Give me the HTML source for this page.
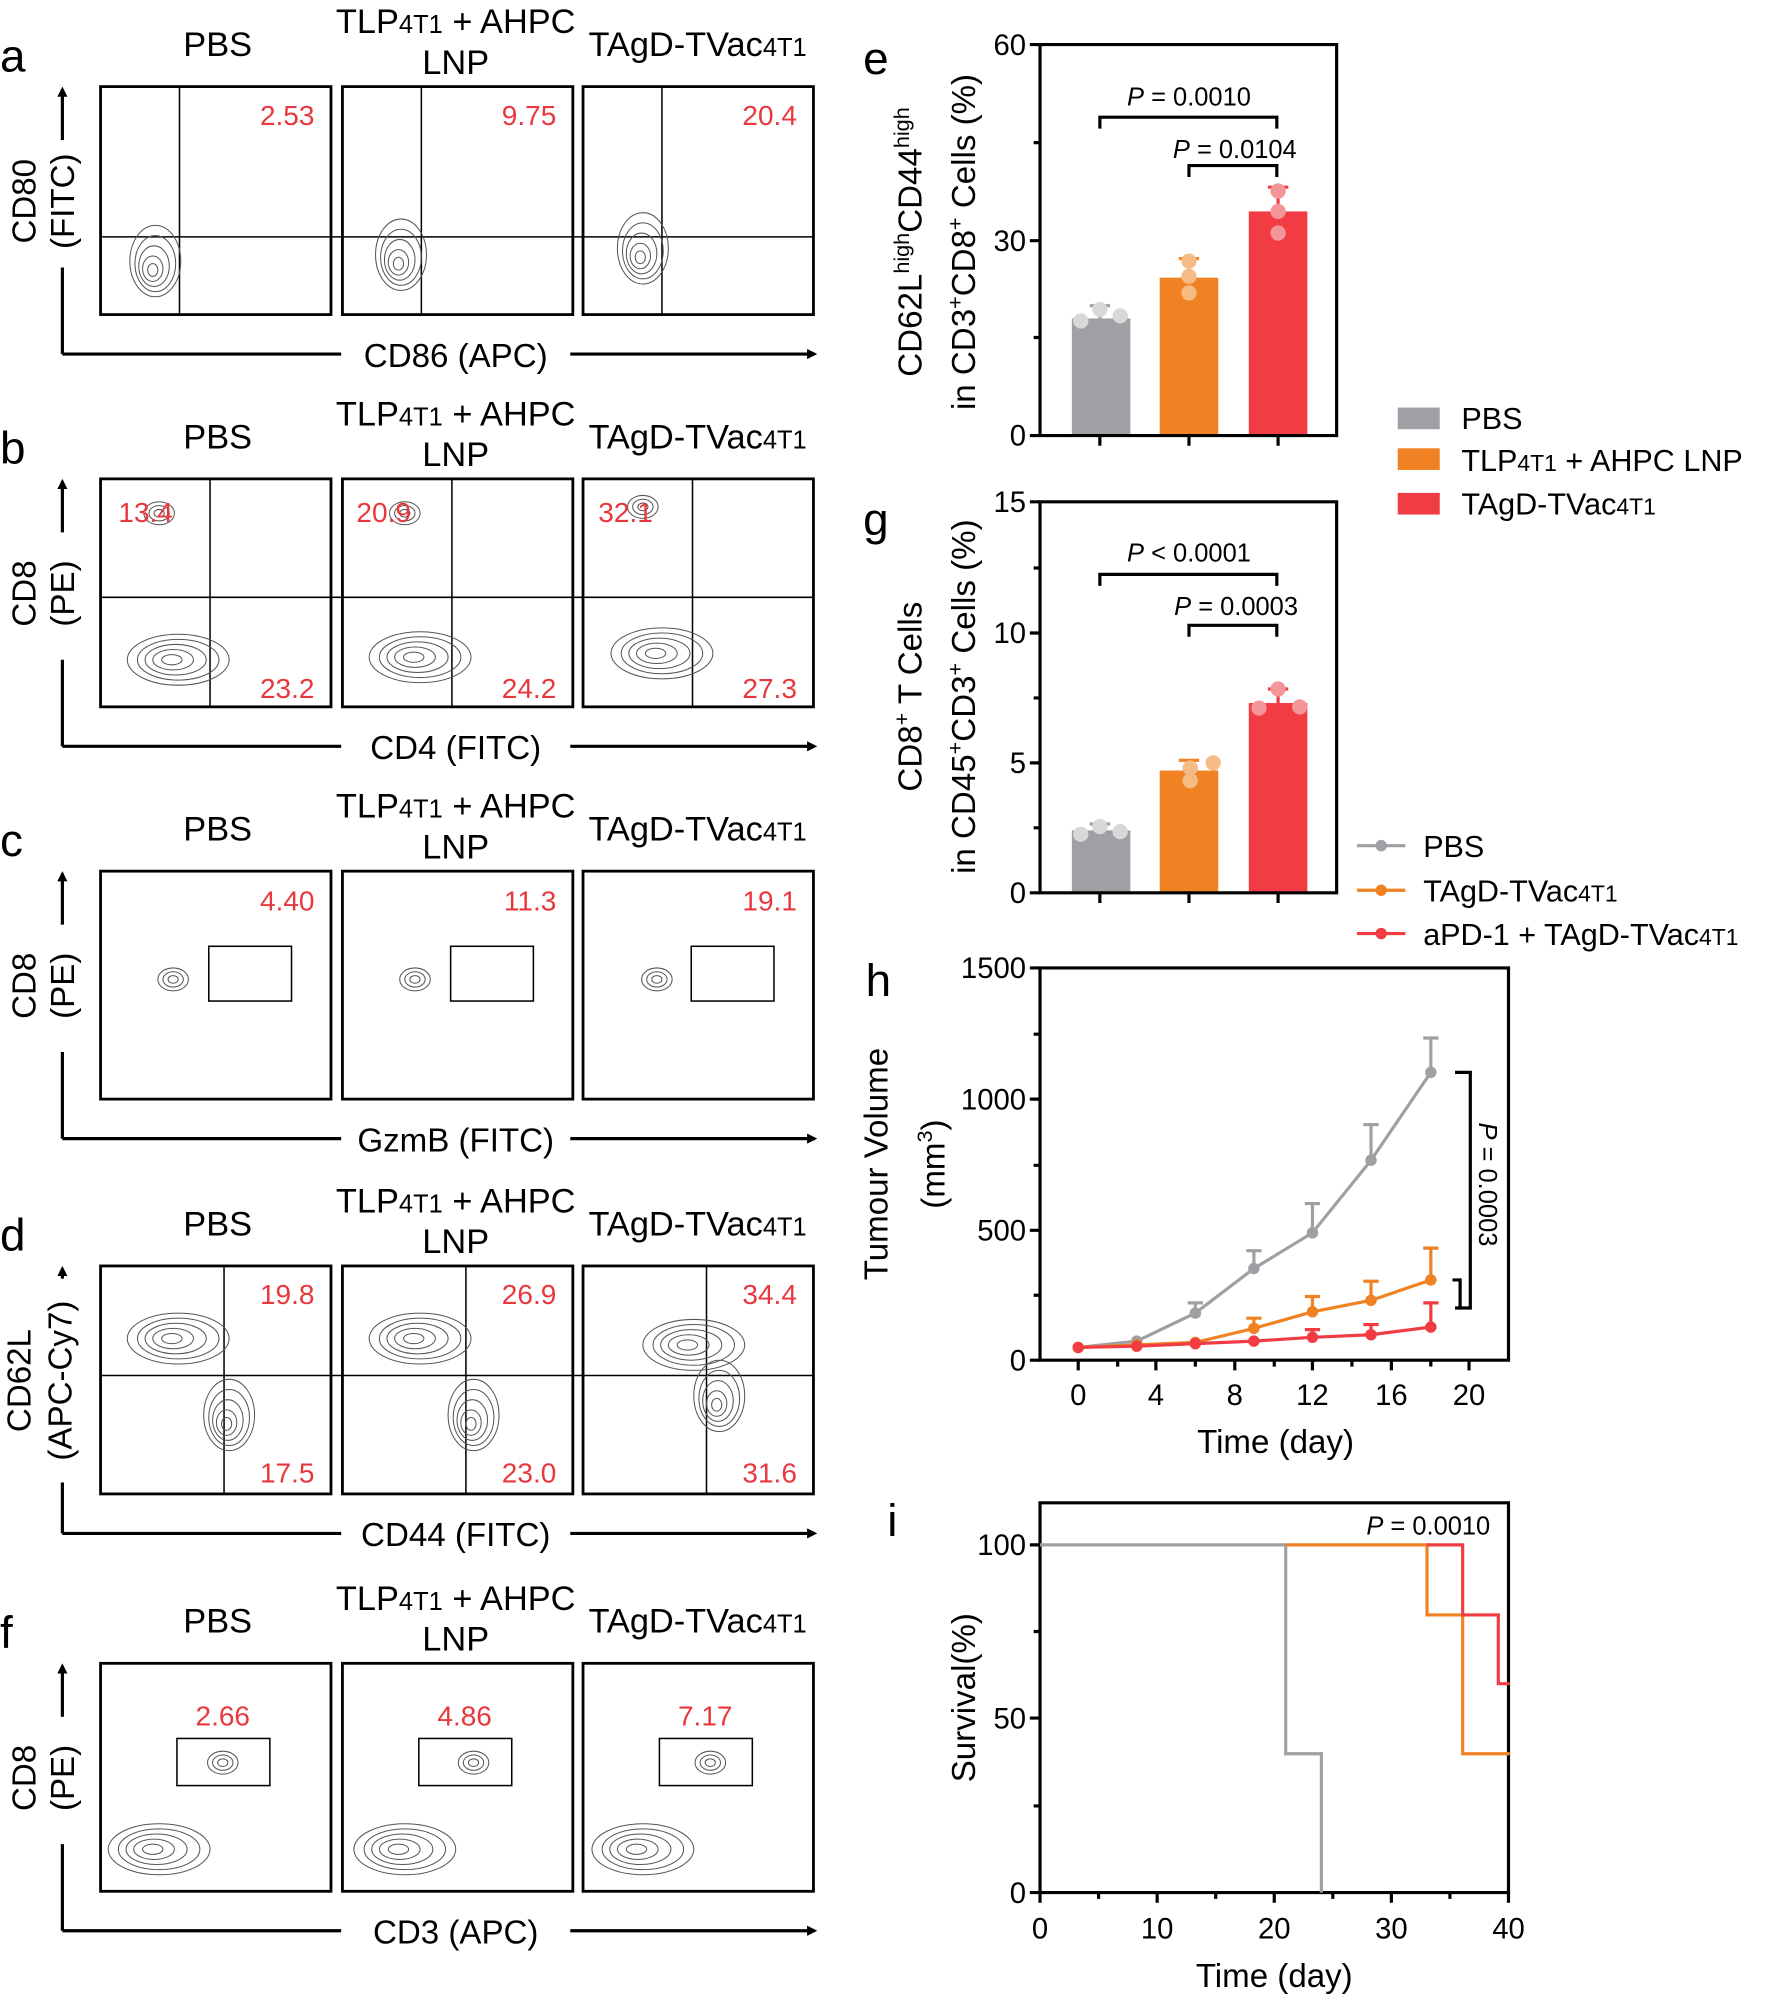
<!DOCTYPE html>
<html><head><meta charset="utf-8"><style>html,body{margin:0;padding:0;background:#fff}svg{display:block}</style></head><body>
<svg width="1772" height="1997" viewBox="0 0 1392 1568" preserveAspectRatio="none" xmlns="http://www.w3.org/2000/svg" font-family="Liberation Sans, Arial, sans-serif">
<defs>
<marker id="ar" markerWidth="8" markerHeight="8" refX="6" refY="4" orient="auto" markerUnits="userSpaceOnUse"><path d="M0,0 L8,4 L0,8 z" fill="#000"/></marker>
<g id="hdr" font-size="27" text-anchor="middle">
<text x="171" y="44">PBS</text>
<text x="358" y="26">TLP<tspan font-size="20">4T1</tspan> + AHPC</text>
<text x="358" y="58">LNP</text>
<text x="548" y="44">TAgD-TVac<tspan font-size="20">4T1</tspan></text>
</g>
<g id="boxes" fill="none" stroke="#000" stroke-width="2.2">
<rect x="79" y="68" width="181" height="179"/><rect x="269" y="68" width="181" height="179"/><rect x="458" y="68" width="181" height="179"/>
</g>
<g id="axis" stroke="#000" stroke-width="2.5" fill="none">
<line x1="49" y1="278" x2="268" y2="278"/><line x1="448" y1="278" x2="640" y2="278" marker-end="url(#ar)"/>
<line x1="49" y1="278" x2="49" y2="210"/><line x1="49" y1="110" x2="49" y2="70" marker-end="url(#ar)"/>
</g>
<g id="cont" fill="none" stroke="#555" stroke-width="0.8">
<ellipse cx="0" cy="0" rx="20" ry="28"/><ellipse cx="0" cy="2" rx="16" ry="22"/><ellipse cx="-1" cy="4" rx="12" ry="16"/><ellipse cx="-2" cy="6" rx="8" ry="10"/><ellipse cx="-2" cy="7" rx="4" ry="5"/>
</g>
<g id="blob" fill="none" stroke="#555" stroke-width="0.8">
<ellipse cx="0" cy="0" rx="40" ry="20"/><ellipse cx="0" cy="0" rx="32" ry="16"/><ellipse cx="-2" cy="0" rx="24" ry="12"/><ellipse cx="-4" cy="0" rx="16" ry="8"/><ellipse cx="-5" cy="0" rx="8" ry="4"/>
</g>
<g id="small" fill="none" stroke="#555" stroke-width="0.8">
<ellipse cx="0" cy="0" rx="12" ry="9"/><ellipse cx="0" cy="0" rx="8" ry="6"/><ellipse cx="0" cy="0" rx="4" ry="3"/>
</g>
</defs>

<g font-size="36">
<text x="0" y="56">a</text><text x="0" y="364">b</text><text x="0" y="672">c</text><text x="0" y="982">d</text><text x="0" y="1294">f</text>
<text x="678" y="58">e</text><text x="678" y="420">g</text><text x="680" y="782">h</text><text x="697" y="1206">i</text>
</g>

<!-- a -->
<g><use href="#hdr"/><use href="#boxes"/><use href="#axis"/>
<g stroke="#000" stroke-width="1.2"><line x1="141" y1="68" x2="141" y2="247"/><line x1="331" y1="68" x2="331" y2="247"/><line x1="520" y1="68" x2="520" y2="247"/><line x1="79" y1="186" x2="639" y2="186"/></g>
<use href="#cont" x="122" y="205"/><use href="#cont" x="315" y="200"/><use href="#cont" x="505" y="195"/>
<g fill="#e8383d" font-size="22" text-anchor="end"><text x="247" y="98">2.53</text><text x="437" y="98">9.75</text><text x="626" y="98">20.4</text></g>
<g font-size="26" text-anchor="middle"><text x="358" y="288">CD86 (APC)</text>
<text transform="translate(28,158) rotate(-90)">CD80</text><text transform="translate(58,158) rotate(-90)">(FITC)</text></g>
</g>

<!-- b -->
<g transform="translate(0,308)"><use href="#hdr"/><use href="#boxes"/><use href="#axis"/>
<g stroke="#000" stroke-width="1.2"><line x1="165" y1="68" x2="165" y2="247"/><line x1="355" y1="68" x2="355" y2="247"/><line x1="544" y1="68" x2="544" y2="247"/><line x1="79" y1="161" x2="639" y2="161"/></g>
<use href="#small" x="125" y="95"/><use href="#small" x="318" y="95"/><use href="#small" x="505" y="90"/>
<use href="#blob" x="140" y="210"/><use href="#blob" x="330" y="208"/><use href="#blob" x="520" y="205"/>
<g fill="#e8383d" font-size="22"><text x="93" y="102">13.4</text><text x="280" y="102">20.9</text><text x="470" y="102">32.1</text>
<g text-anchor="end"><text x="247" y="240">23.2</text><text x="437" y="240">24.2</text><text x="626" y="240">27.3</text></g></g>
<g font-size="26" text-anchor="middle"><text x="358" y="288">CD4 (FITC)</text>
<text transform="translate(28,158) rotate(-90)">CD8</text><text transform="translate(58,158) rotate(-90)">(PE)</text></g>
</g>

<!-- c -->
<g transform="translate(0,616)"><use href="#hdr"/><use href="#boxes"/><use href="#axis"/>
<g fill="none" stroke="#000" stroke-width="1.2"><rect x="164" y="127" width="65" height="43"/><rect x="354" y="127" width="65" height="43"/><rect x="543" y="127" width="65" height="43"/></g>
<use href="#small" x="136" y="153"/><use href="#small" x="326" y="153"/><use href="#small" x="516" y="153"/>
<g fill="#e8383d" font-size="22" text-anchor="end"><text x="247" y="99">4.40</text><text x="437" y="99">11.3</text><text x="626" y="99">19.1</text></g>
<g font-size="26" text-anchor="middle"><text x="358" y="288">GzmB (FITC)</text>
<text transform="translate(28,158) rotate(-90)">CD8</text><text transform="translate(58,158) rotate(-90)">(PE)</text></g>
</g>

<!-- d -->
<g transform="translate(0,926)"><use href="#hdr"/><use href="#boxes"/><use href="#axis"/>
<rect x="38" y="78" width="24" height="160" fill="#fff"/>
<g stroke="#000" stroke-width="1.2"><line x1="176" y1="68" x2="176" y2="247"/><line x1="366" y1="68" x2="366" y2="247"/><line x1="555" y1="68" x2="555" y2="247"/><line x1="79" y1="154" x2="639" y2="154"/></g>
<use href="#blob" x="140" y="125"/><use href="#blob" x="330" y="125"/><use href="#blob" x="545" y="130"/>
<use href="#cont" x="180" y="185"/><use href="#cont" x="372" y="185"/><use href="#cont" x="565" y="170"/>
<g fill="#e8383d" font-size="22" text-anchor="end"><text x="247" y="98">19.8</text><text x="437" y="98">26.9</text><text x="626" y="98">34.4</text>
<text x="247" y="238">17.5</text><text x="437" y="238">23.0</text><text x="626" y="238">31.6</text></g>
<g font-size="26" text-anchor="middle"><text x="358" y="288">CD44 (FITC)</text>
<text transform="translate(24,158) rotate(-90)">CD62L</text><text transform="translate(56,158) rotate(-90)">(APC-Cy7)</text></g>
</g>

<!-- f -->
<g transform="translate(0,1238)"><use href="#hdr"/><use href="#boxes"/><use href="#axis"/>
<g fill="none" stroke="#000" stroke-width="1.2"><rect x="139" y="127" width="73" height="37"/><rect x="329" y="127" width="73" height="37"/><rect x="518" y="127" width="73" height="37"/></g>
<use href="#small" x="175" y="146"/><use href="#small" x="372" y="146"/><use href="#small" x="558" y="146"/>
<use href="#blob" x="125" y="214"/><use href="#blob" x="318" y="214"/><use href="#blob" x="505" y="214"/>
<g fill="#e8383d" font-size="22" text-anchor="middle"><text x="175" y="117">2.66</text><text x="365" y="117">4.86</text><text x="554" y="117">7.17</text></g>
<g font-size="26" text-anchor="middle"><text x="358" y="288">CD3 (APC)</text>
<text transform="translate(28,158) rotate(-90)">CD8</text><text transform="translate(58,158) rotate(-90)">(PE)</text></g>
</g>

<!-- e -->
<g>
<rect x="842" y="250" width="46" height="92" fill="#a0a0a4"/><rect x="911" y="218" width="46" height="124" fill="#f08223"/><rect x="981" y="166" width="46" height="176" fill="#f23c44"/>
<g stroke-width="2.5"><path d="M864,250V240M856,240H872" stroke="#a0a0a4"/><path d="M934,218V203M926,203H942" stroke="#f08223"/><path d="M1004,166V147M996,147H1012" stroke="#f23c44"/></g>
<g fill="#d8d8d8"><circle cx="849" cy="252" r="6"/><circle cx="864" cy="243" r="6"/><circle cx="880" cy="248" r="6"/></g>
<g fill="#f6bb85"><circle cx="934" cy="205" r="6"/><circle cx="934" cy="217" r="6"/><circle cx="934" cy="230" r="6"/></g>
<g fill="#f4959a"><circle cx="1004" cy="150" r="6"/><circle cx="1004" cy="166" r="6"/><circle cx="1004" cy="183" r="6"/></g>
<path d="M817,35V342H1050V35Z" fill="none" stroke="#000" stroke-width="2.5"/>
<g stroke="#000" stroke-width="2.5"><path d="M817,342H809M817,189H809M817,35H809M817,265H812M817,112H812M864,342V350M934,342V350M1004,342V350"/></g>
<g font-size="23" text-anchor="end"><text x="806" y="350">0</text><text x="806" y="197">30</text><text x="806" y="43">60</text></g>
<path d="M864,101V92H1003V101M934,139V130H1003V139" fill="none" stroke="#000" stroke-width="2.5"/>
<g font-size="20" text-anchor="middle"><text x="934" y="83"><tspan font-style="italic">P</tspan> = 0.0010</text><text x="970" y="124"><tspan font-style="italic">P</tspan> = 0.0104</text></g>
<g font-size="26" text-anchor="middle"><text transform="translate(724,190) rotate(-90)">CD62L<tspan font-size="17" dy="-10">high</tspan><tspan dy="10">CD44</tspan><tspan font-size="17" dy="-10">high</tspan></text>
<text transform="translate(766,190) rotate(-90)">in CD3<tspan font-size="17" dy="-10">+</tspan><tspan dy="10">CD8</tspan><tspan font-size="17" dy="-10">+</tspan><tspan dy="10"> Cells (%)</tspan></text></g>
</g>

<g font-size="24"><rect x="1098" y="320" width="33" height="17" fill="#a0a0a4"/><rect x="1098" y="352" width="33" height="17" fill="#f08223"/><rect x="1098" y="387" width="33" height="17" fill="#f23c44"/>
<text x="1148" y="337">PBS</text><text x="1148" y="370">TLP<tspan font-size="18">4T1</tspan> + AHPC LNP</text><text x="1148" y="404">TAgD-TVac<tspan font-size="18">4T1</tspan></text></g>

<!-- g -->
<g>
<rect x="842" y="652" width="46" height="49" fill="#a0a0a4"/><rect x="911" y="605" width="46" height="96" fill="#f08223"/><rect x="981" y="552" width="46" height="149" fill="#f23c44"/>
<g stroke-width="2.5"><path d="M864,652V647M856,647H872" stroke="#a0a0a4"/><path d="M934,605V597M926,597H942" stroke="#f08223"/><path d="M1004,552V541M996,541H1012" stroke="#f23c44"/></g>
<g fill="#d8d8d8"><circle cx="849" cy="655" r="6"/><circle cx="864" cy="649" r="6"/><circle cx="880" cy="653" r="6"/></g>
<g fill="#f6bb85"><circle cx="935" cy="603" r="6"/><circle cx="935" cy="613" r="6"/><circle cx="953" cy="599" r="6"/></g>
<g fill="#f4959a"><circle cx="989" cy="556" r="6"/><circle cx="1004" cy="541" r="6"/><circle cx="1021" cy="555" r="6"/></g>
<path d="M817,394V701H1050V394Z" fill="none" stroke="#000" stroke-width="2.5"/>
<g stroke="#000" stroke-width="2.5"><path d="M817,701H809M817,599H809M817,497H809M817,394H809M817,650H812M817,548H812M817,446H812M864,701V709M934,701V709M1004,701V709"/></g>
<g font-size="23" text-anchor="end"><text x="806" y="709">0</text><text x="806" y="607">5</text><text x="806" y="505">10</text><text x="806" y="402">15</text></g>
<path d="M864,460V451H1003V460M934,500V491H1003V500" fill="none" stroke="#000" stroke-width="2.5"/>
<g font-size="20" text-anchor="middle"><text x="934" y="441"><tspan font-style="italic">P</tspan> &lt; 0.0001</text><text x="971" y="483"><tspan font-style="italic">P</tspan> = 0.0003</text></g>
<g font-size="26" text-anchor="middle"><text transform="translate(724,547) rotate(-90)">CD8<tspan font-size="17" dy="-10">+</tspan><tspan dy="10"> T Cells</tspan></text>
<text transform="translate(766,547) rotate(-90)">in CD45<tspan font-size="17" dy="-10">+</tspan><tspan dy="10">CD3</tspan><tspan font-size="17" dy="-10">+</tspan><tspan dy="10"> Cells (%)</tspan></text></g>
</g>

<g font-size="24">
<line x1="1066" y1="664" x2="1104" y2="664" stroke="#a0a0a4" stroke-width="2.5"/><circle cx="1085" cy="664" r="4.5" fill="#a0a0a4"/>
<line x1="1066" y1="699" x2="1104" y2="699" stroke="#f08223" stroke-width="2.5"/><circle cx="1085" cy="699" r="4.5" fill="#f08223"/>
<line x1="1066" y1="733" x2="1104" y2="733" stroke="#f23c44" stroke-width="2.5"/><circle cx="1085" cy="733" r="4.5" fill="#f23c44"/>
<text x="1118" y="673">PBS</text><text x="1118" y="708">TAgD-TVac<tspan font-size="18">4T1</tspan></text><text x="1118" y="742">aPD-1 + TAgD-TVac<tspan font-size="18">4T1</tspan></text>
</g>

<!-- h -->
<g>
<path d="M817,760V1068H1185V760Z" fill="none" stroke="#000" stroke-width="2.5"/>
<g stroke="#000" stroke-width="2.5"><path d="M817,1068H809M817,966H809M817,863H809M817,760H809M817,1017H812M817,915H812M817,812H812M847,1068V1076M908,1068V1076M970,1068V1076M1031,1068V1076M1093,1068V1076M1154,1068V1076M878,1068V1073M939,1068V1073M1001,1068V1073M1062,1068V1073M1124,1068V1073"/></g>
<g font-size="23" text-anchor="end"><text x="806" y="1076">0</text><text x="806" y="974">500</text><text x="806" y="871">1000</text><text x="806" y="768">1500</text></g>
<g font-size="23" text-anchor="middle"><text x="847" y="1103">0</text><text x="908" y="1103">4</text><text x="970" y="1103">8</text><text x="1031" y="1103">12</text><text x="1093" y="1103">16</text><text x="1154" y="1103">20</text></g>
<text x="1002" y="1141" font-size="26" text-anchor="middle">Time (day)</text>
<g font-size="26" text-anchor="middle"><text transform="translate(697,914) rotate(-90)">Tumour Volume</text><text transform="translate(742,914) rotate(-90)">(mm<tspan font-size="17" dy="-10">3</tspan><tspan dy="10">)</tspan></text></g>
<g stroke="#a0a0a4" stroke-width="2.5" fill="none"><path d="M939,1031V1023M985,996V982M1031,968V945M1077,911V883M1124,842V815"/><path d="M933,1023H945M979,982H991M1025,945H1037M1071,883H1083M1118,815H1130"/>
<polyline points="847,1058 893,1053 939,1031 985,996 1031,968 1077,911 1124,842"/></g>
<g fill="#a0a0a4"><circle cx="847" cy="1058" r="4.5"/><circle cx="893" cy="1053" r="4.5"/><circle cx="939" cy="1031" r="4.5"/><circle cx="985" cy="996" r="4.5"/><circle cx="1031" cy="968" r="4.5"/><circle cx="1077" cy="911" r="4.5"/><circle cx="1124" cy="842" r="4.5"/></g>
<g stroke="#f08223" stroke-width="2.5" fill="none"><path d="M985,1043V1035M1031,1030V1018M1077,1021V1006M1124,1005V980M979,1035H991M1025,1018H1037M1071,1006H1083M1118,980H1130"/>
<polyline points="847,1058 893,1056 939,1054 985,1043 1031,1030 1077,1021 1124,1005"/></g>
<g fill="#f08223"><circle cx="847" cy="1058" r="4.5"/><circle cx="893" cy="1056" r="4.5"/><circle cx="939" cy="1054" r="4.5"/><circle cx="985" cy="1043" r="4.5"/><circle cx="1031" cy="1030" r="4.5"/><circle cx="1077" cy="1021" r="4.5"/><circle cx="1124" cy="1005" r="4.5"/></g>
<g stroke="#f23c44" stroke-width="2.5" fill="none"><path d="M1124,1042V1023M1118,1023H1130M1077,1048V1040M1071,1040H1083M1031,1050V1044M1025,1044H1037"/>
<polyline points="847,1058 893,1057 939,1055 985,1053 1031,1050 1077,1048 1124,1042"/></g>
<g fill="#f23c44"><circle cx="847" cy="1058" r="4.5"/><circle cx="893" cy="1057" r="4.5"/><circle cx="939" cy="1055" r="4.5"/><circle cx="985" cy="1053" r="4.5"/><circle cx="1031" cy="1050" r="4.5"/><circle cx="1077" cy="1048" r="4.5"/><circle cx="1124" cy="1042" r="4.5"/></g>
<path d="M1143,842H1155V1027H1143M1141,1005H1147V1027" fill="none" stroke="#000" stroke-width="2.5"/>
<text transform="translate(1162,930) rotate(90)" font-size="20" text-anchor="middle"><tspan font-style="italic">P</tspan> = 0.0003</text>
</g>

<!-- i -->
<g>
<path d="M817,1180V1486H1185V1180Z" fill="none" stroke="#000" stroke-width="2.5"/>
<g stroke="#000" stroke-width="2.5"><path d="M817,1486H809M817,1349H809M817,1213H809M817,1418H812M817,1281H812M817,1486V1494M909,1486V1494M1001,1486V1494M1093,1486V1494M1185,1486V1494M863,1486V1491M955,1486V1491M1047,1486V1491M1139,1486V1491"/></g>
<g font-size="23" text-anchor="end"><text x="806" y="1494">0</text><text x="806" y="1357">50</text><text x="806" y="1221">100</text></g>
<g font-size="23" text-anchor="middle"><text x="817" y="1522">0</text><text x="909" y="1522">10</text><text x="1001" y="1522">20</text><text x="1093" y="1522">30</text><text x="1185" y="1522">40</text></g>
<text x="1001" y="1560" font-size="26" text-anchor="middle">Time (day)</text>
<text transform="translate(766,1333) rotate(-90)" font-size="26" text-anchor="middle">Survival(%)</text>
<text x="1122" y="1205" font-size="20" text-anchor="middle"><tspan font-style="italic">P</tspan> = 0.0010</text>
<g fill="none" stroke-width="2.5">
<path d="M817,1213H1010V1377H1038V1486" stroke="#a0a0a4"/>
<path d="M1010,1213H1121V1268H1149V1377H1186" stroke="#f08223"/>
<path d="M1121,1213H1149V1268H1177V1322H1186" stroke="#f23c44"/>
</g>
</g>
</svg>
</body></html>
